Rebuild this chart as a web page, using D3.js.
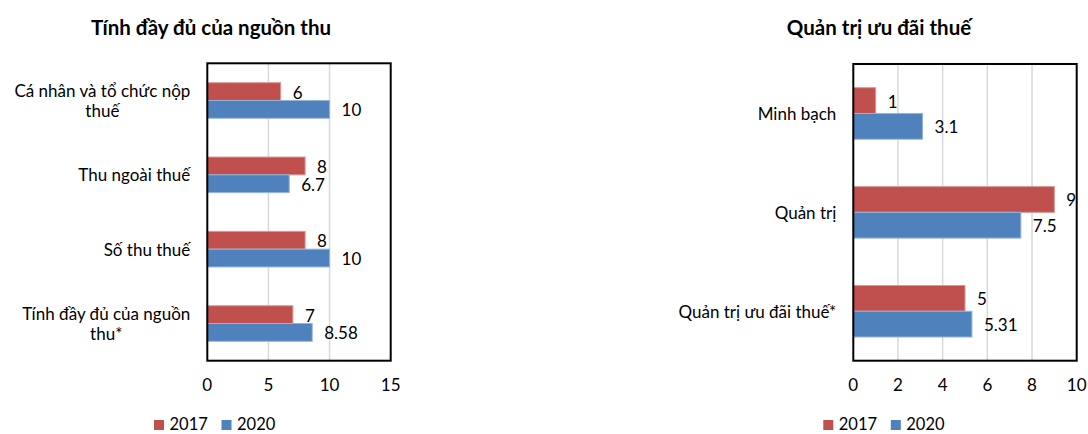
<!DOCTYPE html>
<html>
<head>
<meta charset="utf-8">
<script src="https://cdn.jsdelivr.net/npm/d3@7"></script>
<style>
  body { margin: 0; background: #fff; }
  text { font-family: Lato, "Open Sans", sans-serif; fill: #000; }
</style>
</head>
<body>
<div class="dashboard"></div>
<script>
// series
const seriesNames = ["2017", "2020"];
const seriesColors = ["#c0504d", "#4f81bd"];
const seriesStroke = ["#d99795", "#95b3d7"];

// left chart: Tính đầy đủ của nguồn thu
const revenueTitle = "Tính đầy đủ của nguồn thu";
const revenueCategories = [
  "Cá nhân và tổ chức nộp thuế",
  "Thu ngoài thuế",
  "Số thu thuế",
  "Tính đầy đủ của nguồn thu*",
];
const revenue2017 = [6, 8, 8, 7];
const revenue2020 = [10, 6.7, 10, 8.58];
const revenueTicks = [0, 5, 10, 15];

// right chart: Quản trị ưu đãi thuế
const incentiveTitle = "Quản trị ưu đãi thuế";
const incentiveCategories = ["Minh bạch", "Quản trị", "Quản trị ưu đãi thuế*"];
const incentive2017 = [1, 9, 5];
const incentive2020 = [3.1, 7.5, 5.31];
const incentiveTicks = [0, 2, 4, 6, 8, 10];

const svgWidth = 1088,
  svgHeight = 434,
  fontSize = 17;

const svg = d3
  .select(".dashboard")
  .append("svg")
  .attr("width", svgWidth)
  .attr("height", svgHeight);

function wrapLabel(textSel, maxWidth, lineGap) {
  textSel.each(function (d) {
    const text = d3.select(this);
    const words = d.split(" ");
    const lines = [];
    let line = [];
    text.text(null);
    const probe = text.append("tspan");
    words.forEach((w) => {
      line.push(w);
      probe.text(line.join(" "));
      if (probe.node().getComputedTextLength() > maxWidth && line.length > 1) {
        line.pop();
        lines.push(line.join(" "));
        line = [w];
      }
    });
    lines.push(line.join(" "));
    probe.remove();
    const x = +text.attr("x");
    const start = -((lines.length - 1) * lineGap) / 2;
    lines.forEach((l, i) => {
      text
        .append("tspan")
        .attr("x", x)
        .attr("y", start + i * lineGap)
        .text(l);
    });
    // centre the lines on each other, right edge on the widest line
    const spans = text.selectAll("tspan").nodes();
    const maxW = d3.max(spans, (s) => s.getComputedTextLength());
    spans.forEach((s) => {
      const w = s.getComputedTextLength();
      d3.select(s).attr("x", x - (maxW - w) / 2).attr("text-anchor", "end");
    });
  });
}

function drawChart(cfg) {
  const g = svg.append("g");

  const xScale = d3
    .scaleLinear()
    .domain(cfg.domain)
    .range([cfg.left, cfg.right]);

  const yScale = d3
    .scaleBand()
    .domain(cfg.categories)
    .range([cfg.top, cfg.bottom])
    .padding(0);

  const barScale = d3
    .scaleBand()
    .domain(seriesNames)
    .range([0, yScale.bandwidth()])
    .paddingOuter(cfg.barOuter)
    .paddingInner(0);

  const rows = cfg.categories.map((c, i) => ({
    category: c,
    values: [cfg.values[0][i], cfg.values[1][i]],
  }));

  // gridlines
  g.append("g")
    .selectAll("line")
    .data(cfg.ticks.slice(1, -1))
    .enter()
    .append("line")
    .attr("x1", (d) => xScale(d))
    .attr("x2", (d) => xScale(d))
    .attr("y1", cfg.top)
    .attr("y2", cfg.bottom)
    .attr("stroke", "#d9d9d9")
    .attr("stroke-width", 1.5);

  // bars
  const groups = g
    .selectAll(".cat")
    .data(rows)
    .enter()
    .append("g")
    .attr("transform", (d) => `translate(0, ${yScale(d.category)})`);

  groups
    .selectAll("rect")
    .data((d) => d.values.map((v, i) => ({ v, s: seriesNames[i], i })))
    .enter()
    .append("rect")
    .attr("x", xScale(0))
    .attr("y", (d) => barScale(d.s))
    .attr("width", (d) => xScale(d.v) - xScale(0))
    .attr("height", barScale.bandwidth())
    .attr("fill", (d) => seriesColors[d.i])
    .attr("stroke", (d) => seriesStroke[d.i])
    .attr("stroke-width", 1);

  // value labels
  groups
    .selectAll(".val")
    .data((d) => d.values.map((v, i) => ({ v, s: seriesNames[i] })))
    .enter()
    .append("text")
    .attr("x", (d) => xScale(d.v) + 12)
    .attr("y", (d) => barScale(d.s) + barScale.bandwidth() / 2 + 7)
    .style("font-size", `${fontSize}px`)
    .text((d) => d.v);

  // plot frame
  g.append("rect")
    .attr("x", cfg.left)
    .attr("y", cfg.top)
    .attr("width", cfg.right - cfg.left)
    .attr("height", cfg.bottom - cfg.top)
    .attr("fill", "none")
    .attr("stroke", "#000")
    .attr("stroke-width", 2);

  // category labels
  g.append("g")
    .selectAll("text")
    .data(cfg.categories)
    .enter()
    .append("text")
    .attr("transform", (d) => `translate(0, ${yScale(d) + yScale.bandwidth() / 2 + 6.5})`)
    .attr("x", cfg.left - 17)
    .style("font-size", `${fontSize}px`)
    .call(wrapLabel, cfg.wrapWidth, 20);

  // x axis tick labels
  g.append("g")
    .selectAll("text")
    .data(cfg.ticks)
    .enter()
    .append("text")
    .attr("x", (d) => xScale(d))
    .attr("y", cfg.bottom + 30)
    .attr("text-anchor", "middle")
    .style("font-size", `${fontSize}px`)
    .text((d) => d);

  // title
  g.append("text")
    .attr("x", cfg.titleX)
    .attr("y", 35)
    .attr("text-anchor", "middle")
    .style("font-size", "20.5px")
    .style("font-weight", "bold")
    .text(cfg.title);

  // legend
  const legend = g
    .selectAll(".legend")
    .data(seriesNames)
    .enter()
    .append("g")
    .attr("transform", (d, i) => `translate(${cfg.legendX + i * 67.5}, 420)`);

  legend
    .append("rect")
    .attr("width", 10)
    .attr("height", 10)
    .attr("fill", (d, i) => seriesColors[i]);

  legend
    .append("text")
    .attr("x", 15.5)
    .attr("y", 10)
    .style("font-size", "16.5px")
    .text((d) => d);
}

drawChart({
  title: revenueTitle,
  categories: revenueCategories,
  values: [revenue2017, revenue2020],
  ticks: revenueTicks,
  domain: [0, 15],
  left: 207.3,
  right: 390.7,
  top: 63.3,
  bottom: 360.7,
  barOuter: 1.09,
  wrapWidth: 185,
  titleX: 211,
  legendX: 154,
});

drawChart({
  title: incentiveTitle,
  categories: incentiveCategories,
  values: [incentive2017, incentive2020],
  ticks: incentiveTicks,
  domain: [0, 10],
  left: 853.3,
  right: 1076.7,
  top: 64,
  bottom: 360.7,
  barOuter: 0.92,
  wrapWidth: 300,
  titleX: 879,
  legendX: 823.3,
});
</script>
</body>
</html>
